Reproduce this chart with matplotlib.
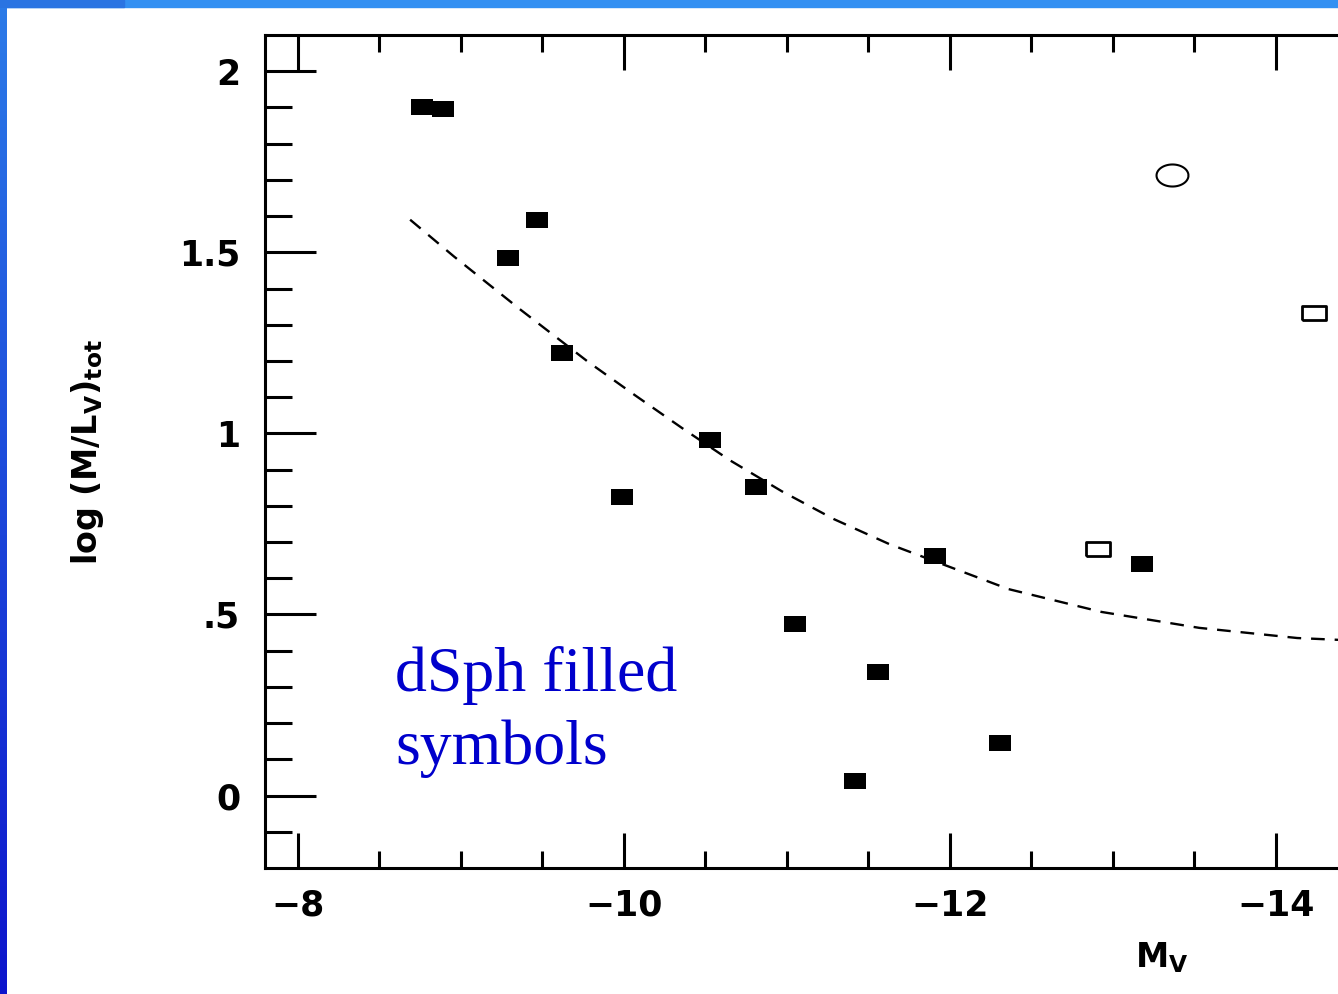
import matplotlib
matplotlib.use("Agg")
import matplotlib.pyplot as plt
import numpy as np
from matplotlib.patches import Rectangle

# dSph / dE points (filled symbols)
filled_mv = [-8.76, -8.89, -9.29, -9.47, -9.62, -9.99, -10.53, -10.81,
             -11.05, -11.56, -11.42, -11.91, -12.31, -13.18]
filled_ml = [1.90, 1.895, 1.485, 1.59, 1.223, 0.824, 0.983, 0.851,
             0.474, 0.342, 0.041, 0.661, 0.146, 0.639]

# open symbols
open_sq_mv = [-12.91, -14.23]
open_sq_ml = [0.68, 1.333]
circle_mv = [-13.36]
circle_ml = [1.713]

# dashed model curve
curve_mv = [-8.69, -8.96, -9.36, -9.78, -10.07, -10.36, -10.65, -10.97,
            -11.29, -11.63, -12.36, -12.93, -13.53, -14.13, -14.38]
curve_ml = [1.59, 1.488, 1.344, 1.198, 1.105, 1.014, 0.926, 0.84,
            0.763, 0.694, 0.57, 0.507, 0.463, 0.435, 0.43]

xticks = [-8, -10, -12, -14]
xtick_labels = ['\u22128', '\u221210', '\u221212', '\u221214']
yticks = [0, 0.5, 1, 1.5, 2]
ytick_labels = ['0', '.5', '1', '1.5', '2']

fig = plt.figure(figsize=(13.38, 9.94), dpi=100)
W, H = 1338, 994

# blue slide border
fig.patches.append(Rectangle((0, 1 - 7 / H), 1, 7 / H, transform=fig.transFigure,
                             color='#3390f2', zorder=0))
fig.patches.append(Rectangle((0, 1 - 7 / H), 124 / W, 7 / H, transform=fig.transFigure,
                             color='#2a74e2', zorder=1))
bax = fig.add_axes([0, 0, 7 / W, 1 - 7 / H])
grad = np.linspace(0, 1, 256).reshape(-1, 1)
top_c = np.array([0.17, 0.48, 0.91])
bot_c = np.array([0.05, 0.08, 0.80])
img = (top_c[None, None, :] * (1 - grad[:, :, None]) + bot_c[None, None, :] * grad[:, :, None])
bax.imshow(img, aspect='auto', extent=[0, 1, 0, 1], origin='upper')
bax.axis('off')

ax = fig.add_axes([265 / W, 1 - 868 / H, 1 - 265 / W, (868 - 35) / H])
ax.set_xlim(-7.8, -14.38)
ax.set_ylim(-0.2, 2.1)

rect = [(-1, -0.72), (1, -0.72), (1, 0.72), (-1, 0.72), (-1, -0.72)]
rect_open = [(-1, -0.62), (1, -0.62), (1, 0.62), (-1, 0.62), (-1, -0.62)]
t = np.linspace(0, 2 * np.pi, 60)
ellipse = list(zip(np.cos(t), 0.69 * np.sin(t)))

ax.plot(curve_mv, curve_ml, color='black', lw=1.7, dashes=(5.8, 4.2), zorder=2)
ax.plot(filled_mv, filled_ml, ls='none', marker=rect, ms=16.5,
        mfc='black', mec='black', mew=0, zorder=3)
ax.plot(open_sq_mv, open_sq_ml, ls='none', marker=rect_open, ms=17,
        mfc='white', mec='black', mew=2, zorder=3)
ax.plot(circle_mv, circle_ml, ls='none', marker=ellipse, ms=23,
        mfc='none', mec='black', mew=1.5, zorder=3)

for s in ['left', 'bottom', 'top']:
    ax.spines[s].set_linewidth(2.2)
ax.spines['right'].set_visible(False)

ax.set_xticks(xticks)
ax.set_xticklabels(xtick_labels)
ax.set_xticks(np.arange(-8, -14.5, -0.5), minor=True)
ax.set_yticks(yticks)
ax.set_yticklabels(ytick_labels)
ax.set_yticks(np.arange(-0.1, 2.05, 0.1), minor=True)

ax.tick_params(axis='x', which='major', direction='in', length=25, width=2.2,
               top=True, bottom=True, pad=15, labelsize=25)
ax.tick_params(axis='x', which='minor', direction='in', length=12.5, width=2.2,
               top=True, bottom=True)
ax.tick_params(axis='y', which='major', direction='in', length=37, width=2.2,
               left=True, right=False, pad=18, labelsize=25)
ax.tick_params(axis='y', which='minor', direction='in', length=19.5, width=2.2,
               left=True, right=False)
for lab in ax.get_xticklabels() + ax.get_yticklabels():
    lab.set_fontweight('bold')

fig.text(88 / W, 1 - 452 / H, r'$\mathbf{log\ (M/L_V)_{tot}}$', rotation=90,
         ha='center', va='center', fontsize=24)
fig.text(1162 / W, 1 - 958 / H, r'$\mathbf{M_V}$', ha='center', va='center',
         fontsize=24)

fig.text(395 / W, 1 - 764 / H, 'dSph filled\nsymbols',
         family='Liberation Serif', fontsize=46, color='#0000cc',
         ha='left', va='baseline', linespacing=1.33)

fig.savefig('out.png', dpi=100)
